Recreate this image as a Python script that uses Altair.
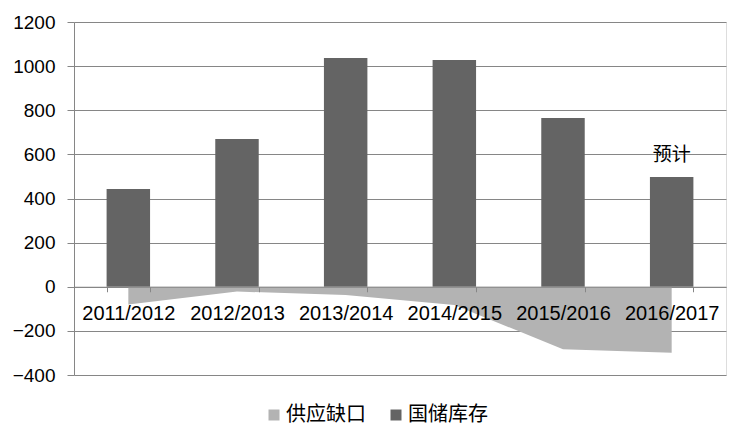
import altair as alt
import pandas as pd

seasons = ["2011/2012", "2012/2013", "2013/2014", "2014/2015", "2015/2016", "2016/2017"]
stock = [443, 670, 1037, 1028, 765, 497]          # 国储库存
gap = [-80, -22, -37, -83, -283, -299]            # 供应缺口
series_names = ["供应缺口", "国储库存"]
series_colors = ["#b3b3b3", "#646464"]
y_ticks = [-400, -200, 0, 200, 400, 600, 800, 1000, 1200]
note = "预计"

bars_df = pd.DataFrame({"season": seasons, "value": stock, "series": series_names[1]})
area_df = pd.DataFrame({"season": seasons, "value": gap, "series": series_names[0]})
note_df = pd.DataFrame({"season": [seasons[-1]], "value": [stock[-1]], "label": [note]})

GRID = "#868686"
x_enc = alt.X(
    "season:N",
    sort=seasons,
    scale=alt.Scale(paddingInner=0.6, paddingOuter=0.3),
    axis=alt.Axis(
        title=None, orient="bottom", offset=-88.25, tickBand="extent",
        tickSize=5, tickColor=GRID, domainColor=GRID, labelAngle=0,
        labelFont="Liberation Sans", labelFontSize=20, labelColor="#000000",
        labelPadding=12, labelOverlap=False, zindex=1, grid=False,
    ),
)
y_scale = alt.Scale(domain=[-400, 1200], nice=False, zero=False)
y_axis = alt.Axis(
    title=None, values=y_ticks, format="d", grid=True, gridColor=GRID, domainColor=GRID,
    tickColor=GRID, tickSize=7, labelPadding=12, labelFont="Liberation Sans",
    labelFontSize=19, labelColor="#000000",
)
color = alt.Color(
    "series:N",
    scale=alt.Scale(domain=series_names, range=series_colors),
    legend=alt.Legend(
        title=None, orient="none", direction="horizontal", legendX=190, legendY=383,
        symbolType="square", symbolSize=121, symbolStrokeWidth=0,
        labelFont="Noto Sans CJK SC", labelFontSize=20, labelColor="#000000",
        labelOffset=2, columnPadding=20,
    ),
)

area = alt.Chart(area_df).mark_area(opacity=1).encode(
    x=x_enc,
    y=alt.Y("value:Q", scale=y_scale, axis=y_axis),
    color=color,
)
bars = alt.Chart(bars_df).mark_bar().encode(
    x=x_enc,
    y=alt.Y("value:Q", scale=y_scale, axis=y_axis),
    color=color,
)
text = alt.Chart(note_df).mark_text(
    font="Noto Sans CJK SC", fontSize=19, color="#000000", baseline="middle", dy=-22
).encode(
    x=alt.X("season:N", sort=seasons),
    y=alt.Y("value:Q", scale=y_scale),
    text="label:N",
)

chart = alt.layer(area, bars, text).properties(
    width=652, height=353,
    autosize=alt.AutoSizeParams(type="none"),
    padding={"left": 66, "top": 14, "right": 5, "bottom": 57},
).configure_view(stroke=None).configure(background="#ffffff")

chart.save("out.html", embed_options={"renderer": "svg", "actions": False})
